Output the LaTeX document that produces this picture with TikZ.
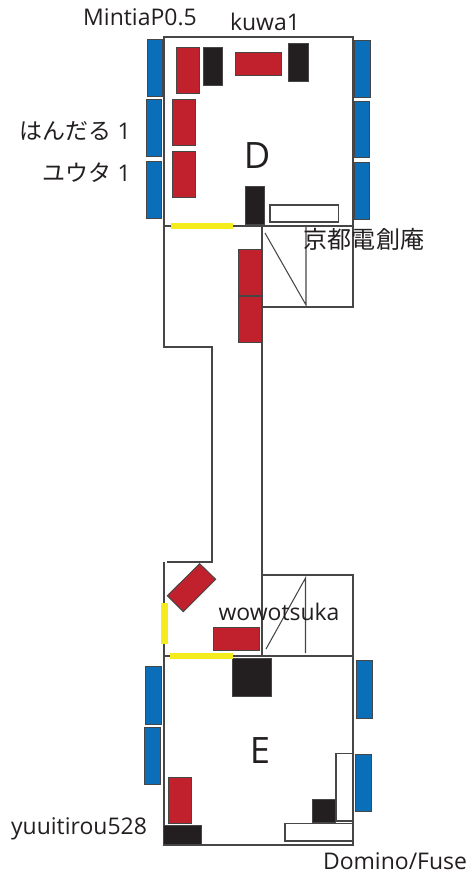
\documentclass[tikz,border=0pt]{standalone}
\usepackage{fontspec}
\setmainfont{Open Sans}
\newfontfamily\cjk{Noto Sans CJK JP}
\usetikzlibrary{positioning}
\definecolor{seatblue}{RGB}{11,110,184}
\definecolor{deskred}{RGB}{192,33,45}
\definecolor{rackblack}{RGB}{35,31,32}
\definecolor{gateyellow}{RGB}{245,236,30}
\definecolor{wallgray}{RGB}{70,70,70}
\tikzset{
  wall/.style={draw=wallgray, line width=0.9pt},
  seat/.style={draw=wallgray, line width=0.8pt, fill=seatblue},
  desk/.style={draw=wallgray, line width=0.8pt, fill=deskred},
  rack/.style={draw=wallgray, line width=0.6pt, fill=rackblack},
  shelf/.style={draw=wallgray, line width=0.9pt, fill=white},
  gate/.style={fill=gateyellow},
  tag/.style={text=rackblack, font=\fontsize{19.6}{22}\selectfont, inner sep=0pt},
  roomtag/.style={text=rackblack, font=\fontsize{31}{34}\selectfont, inner sep=0pt}
}
\begin{document}
\begin{tikzpicture}[x=0.03cm, y=-0.03cm]
\useasboundingbox (0,0) rectangle (472,875);
% Walls
\draw[wall] (164,37) rectangle (353,226);
\draw[wall] (164,656) rectangle (353,845);
\draw[wall] (164,226) -- (164,347) -- (212,347) -- (212,562) -- (167,562);
\draw[wall] (164,562) -- (164,656);
\draw[wall] (262,226) -- (262,656);
% Stairs
\draw[wall] (262,307) -- (353,307) -- (353,226);
\draw[wall] (306,226) -- (306,305) -- (265,233);
\draw[wall] (262,575) -- (353,575) -- (353,656);
\draw[wall] (266,649) -- (305.5,578) -- (305.5,653);

% Seats, room D
\draw[seat] (147,39) rectangle (162,96);
\draw[seat] (146,99.5) rectangle (161.5,156);
\draw[seat] (146,161) rectangle (161.5,218);
\draw[seat] (354.5,40.5) rectangle (370,97);
\draw[seat] (354,101) rectangle (369,157);
\draw[seat] (354,162) rectangle (369,219);
% Seats, room E
\draw[seat] (145,666.5) rectangle (161,724);
\draw[seat] (144.5,727) rectangle (160,784);
\draw[seat] (356.5,660) rectangle (372,718);
\draw[seat] (355.5,754) rectangle (371,811);

% Desks
\draw[desk] (176,47.5) rectangle (199,93);
\draw[desk] (172,99.5) rectangle (195,145);
\draw[desk] (172,151.5) rectangle (195,197);
\draw[desk] (235,52) rectangle (281,75);
\draw[desk] (238,249) rectangle (261,295);
\draw[desk] (238,296.5) rectangle (261,342);
\draw[desk] (199.7,563.7) -- (215.7,579.3) -- (183.3,611.7) -- (167.3,595.7) -- cycle;
\draw[desk] (213,627) rectangle (259,650);
\draw[desk] (168,777) rectangle (191,823);

% Racks
\draw[rack] (203.5,47.5) rectangle (222.5,85);
\draw[rack] (288.5,43) rectangle (308,81);
\draw[rack] (245,186) rectangle (264,224);
\draw[rack] (232.5,658) rectangle (271,696);
\draw[rack] (163.5,825) rectangle (201,844);
\draw[rack] (312,799) rectangle (335,822);

% Shelves
\draw[shelf] (270,205) rectangle (338.5,222);
\draw[shelf] (336,753.5) rectangle (353,821);
\draw[shelf] (285,823.5) rectangle (353,841);

% Doors
\fill[gate] (171,223) rectangle (233,229);
\fill[gate] (161,603) rectangle (168,644);
\fill[gate] (170,653) rectangle (233,659);

% Labels
\node[roomtag] (roomD) at (257,156) {D};
\node[roomtag] (roomE) at (260,751) {E};
\node[tag] (mintia) at (140,17) {MintiaP0.5};
\node[tag] (kuwa) at (265,22) {kuwa1};
\node[tag, anchor=east] (handaru) at (131,131) {{\cjk はんだる} 1};
\node[tag, anchor=east] (yuta) at (131,173) {{\cjk ユウタ} 1};
\node[tag] (kyoto) at (364,239) {\fontsize{20.5}{22}\selectfont\cjk 京都電創庵};
\node[tag] (wowo) at (279,612) {wowotsuka};
\node[tag] (yuui) at (79,829) {yuuitirou528};
\node[tag] (domino) at (395,861) {Domino/Fuse};
\end{tikzpicture}
\end{document}
